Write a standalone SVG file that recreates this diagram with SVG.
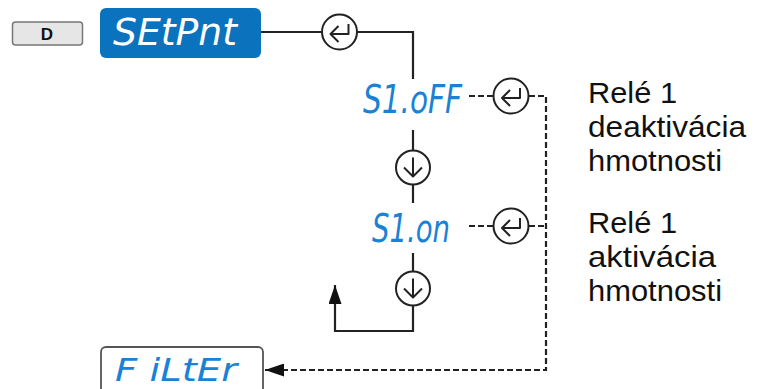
<svg xmlns="http://www.w3.org/2000/svg" width="759" height="389" viewBox="0 0 759 389">
<style>
.seg{font-family:"DejaVu Sans","Liberation Sans",sans-serif;font-style:oblique;font-weight:normal}
.lbl{font-family:"Liberation Sans",Arial,sans-serif;font-size:29px;fill:#111}
.ln{fill:none;stroke:#222;stroke-width:2.2}
.dash{fill:none;stroke:#222;stroke-width:2.2;stroke-dasharray:6 3}
.circ{fill:#fff;stroke:#222;stroke-width:2}
</style>
<defs>
<g id="enter">
<circle class="circ" cx="0" cy="0" r="17.5"/>
<path d="M9,-8 V2 H-9 M-1,-6 L-9,2 L-1,10" fill="none" stroke="#222" stroke-width="2" stroke-linejoin="round"/>
</g>
<g id="down">
<circle class="circ" cx="0" cy="0" r="17"/>
<path d="M0,-10 V9 M-9,0 L0,9 L9,0" fill="none" stroke="#222" stroke-width="2" stroke-linejoin="round"/>
</g>
<marker id="arrBig" viewBox="0 0 10 10" refX="10" refY="5" markerWidth="19" markerHeight="13" markerUnits="userSpaceOnUse" orient="auto" preserveAspectRatio="none">
<path d="M0,0 L10,5 L0,10 z" fill="#111"/>
</marker>
</defs>

<g id="connectors">
<path class="ln" d="M261,32 H322"/>
<path class="ln" d="M357,32 H413 V79"/>
<path class="ln" d="M413,130 V150"/>
<path class="ln" d="M413,185 V203"/>
<path class="ln" d="M413,253 V272"/>
<path class="ln" d="M413,305 V331 H335 V285" marker-end="url(#arrBig)"/>
<path class="dash" d="M469,96 H493"/>
<path class="dash" d="M529,96 H546 V370 H265" marker-end="url(#arrBig)"/>
<path class="dash" d="M469,226 H493"/>
<path class="dash" d="M529,226 H546"/>
</g>

<g id="key-d">
<rect x="12.5" y="22" width="70" height="23" rx="3" fill="#e6e6e6" stroke="#777" stroke-width="1.5"/>
<text x="47" y="40" text-anchor="middle" font-family="Liberation Sans, Arial, sans-serif" font-weight="bold" font-size="17" fill="#111">D</text>
</g>

<g id="setpnt">
<rect x="100" y="8" width="161" height="50" rx="6" fill="#0b72be"/>
<text class="seg" x="113" y="45" font-size="37" fill="#fff" textLength="124" lengthAdjust="spacingAndGlyphs">SEtPnt</text>
</g>

<g id="enter1"><use href="#enter" x="339.5" y="32"/></g>

<g id="s1off">
<text class="seg" x="363" y="113" font-size="39" fill="#1a82d6" textLength="99" lengthAdjust="spacingAndGlyphs">S1.oFF</text>
</g>
<g id="enter2"><use href="#enter" x="511" y="96"/></g>

<g id="down1"><use href="#down" x="413" y="167.5"/></g>

<g id="s1on">
<text class="seg" x="372" y="242" font-size="39" fill="#1a82d6" textLength="78" lengthAdjust="spacingAndGlyphs">S1.on</text>
</g>
<g id="enter3"><use href="#enter" x="511" y="226"/></g>

<g id="down2"><use href="#down" x="413" y="288.5"/></g>

<g id="filter">
<rect x="101" y="347" width="162" height="60" rx="5" fill="#fff" stroke="#555" stroke-width="1.8"/>
<text class="seg" x="115" y="381" font-size="32" fill="#1a82d6" textLength="122" lengthAdjust="spacingAndGlyphs">F iLtEr</text>
</g>

<g id="label-off">
<text class="lbl" x="588" y="103" textLength="89" lengthAdjust="spacingAndGlyphs">Relé 1</text>
<text class="lbl" x="588" y="137" textLength="158" lengthAdjust="spacingAndGlyphs">deaktivácia</text>
<text class="lbl" x="588" y="171" textLength="134" lengthAdjust="spacingAndGlyphs">hmotnosti</text>
</g>
<g id="label-on">
<text class="lbl" x="588" y="233" textLength="89" lengthAdjust="spacingAndGlyphs">Relé 1</text>
<text class="lbl" x="588" y="267" textLength="128" lengthAdjust="spacingAndGlyphs">aktivácia</text>
<text class="lbl" x="588" y="301" textLength="134" lengthAdjust="spacingAndGlyphs">hmotnosti</text>
</g>
</svg>
